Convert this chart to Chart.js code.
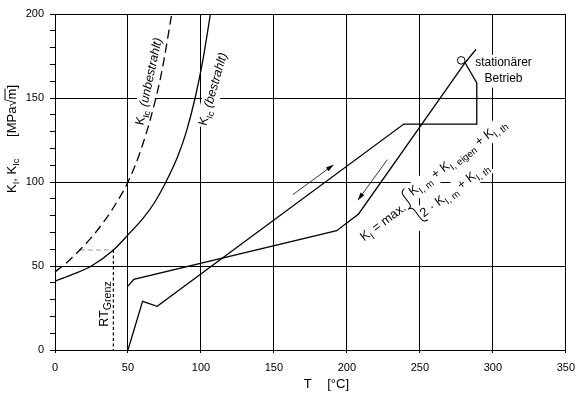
<!DOCTYPE html>
<html>
<head>
<meta charset="utf-8">
<script src="https://cdn.jsdelivr.net/npm/chart.js@4"></script>
<style>
  html, body { margin: 0; padding: 0; background: #fff; }
  canvas { display: block; }
</style>
</head>
<body>
<canvas id="chart" width="583" height="394"></canvas>
<script>
// K_Ic curves, T in °C, K in MPa√m
const kicUnbestrahltT = [0, 8, 17, 25, 34, 42, 50, 58, 66, 73, 80];
const kicUnbestrahltK = [46.5, 52, 59.5, 67, 77, 87.5, 100, 117, 139.5, 165, 200];
const kicBestrahltT = [0, 12, 25, 40, 50, 60, 68, 76, 84, 90, 96, 101, 106.5];
const kicBestrahltK = [41, 45, 50, 59.5, 68.5, 78, 87.5, 100, 115, 130, 150, 171, 200];

// K_I load paths
const pfadAufT = [50, 54, 193, 208, 281, 288.5];
const pfadAufK = [38, 42, 71, 81, 171, 179];
const pfadAbT = [50, 60, 70, 239, 289, 289, 281];
const pfadAbK = [0, 29, 26, 134.5, 134.5, 159, 171];

// RT_Grenz construction lines
const grenzHorizT = [17, 40];
const grenzHorizK = [59.5, 59.5];
const grenzVertT = [40, 40];
const grenzVertK = [59.5, 0];

// direction arrows
const pfeilAufT = [163, 190.5];
const pfeilAufK = [92.5, 110];
const pfeilAbT = [227.7, 207.8];
const pfeilAbK = [113.3, 89.5];

// stationary operation
const stationaerT = [278.3];
const stationaerK = [172.4];

const xTicks = [0, 50, 100, 150, 200, 250, 300, 350];
const yTicks = [0, 50, 100, 150, 200];

const FONT = "'Liberation Sans', Arial, sans-serif";
const TICKFONT = "'Liberation Sans Narrow', 'Liberation Sans', Arial, sans-serif";

const pts = (xs, ys) => xs.map((x, i) => ({ x: x, y: ys[i] }));

function setFont(ctx, size, italic) {
  ctx.font = (italic ? 'italic ' : '') + size + 'px ' + FONT;
}
function richWidth(ctx, parts, size, sub) {
  let w = 0;
  for (const p of parts) {
    setFont(ctx, p.sub ? size * sub : size, p.it);
    w += ctx.measureText(p.t).width;
  }
  return w;
}
function drawRich(ctx, parts, x, y, size, sub) {
  for (const p of parts) {
    setFont(ctx, p.sub ? size * sub : size, p.it);
    ctx.fillText(p.t, x, y + (p.sub ? size * 0.3 : 0));
    x += ctx.measureText(p.t).width;
  }
  return x;
}

// annotations, anchored in data units
const labels = [
  { T: 60.5, K: 133.5, rot: -78, size: 12.5, sub: 0.72, lines: [
    { dx: 0, dy: 0, parts: [{ t: 'K' }, { t: 'Ic', sub: 1 }, { t: ' (unbestrahlt)', it: 1 }] }] },
  { T: 103.7, K: 133.2, rot: -74, size: 12.5, sub: 0.72, lines: [
    { dx: 0, dy: 0, parts: [{ t: 'K' }, { t: 'Ic', sub: 1 }, { t: ' (bestrahlt)', it: 1 }] }] },
  { T: 36, K: 13.9, rot: -90, size: 12.5, sub: 0.85, lines: [
    { dx: 0, dy: 0, parts: [{ t: 'RT' }, { t: 'Grenz', sub: 1 }] }] },
  { T: 307.3, K: 168.9, rot: 0, size: 12, sub: 0.72, center: true, lines: [
    { dx: 0, dy: 0, parts: [{ t: 'stationärer' }] },
    { dx: 0, dy: 16, parts: [{ t: 'Betrieb' }] }] },
  { T: 211.8, K: 64.6, rot: -37, size: 12.8, sub: 0.75, brace: true, lines: [
    { dx: 0, dy: 0, parts: [{ t: 'K' }, { t: 'I', sub: 1 }, { t: ' = max.' }] },
    { dx: 66, dy: -7, parts: [{ t: 'K' }, { t: 'I, m', sub: 1 }, { t: ' + K' }, { t: 'I, eigen', sub: 1 }, { t: ' + K' }, { t: 'I, th', sub: 1 }] },
    { dx: 62, dy: 17, parts: [{ t: '2 · K' }, { t: 'I, m', sub: 1 }, { t: ' + K' }, { t: 'I, th', sub: 1 }] }] }
];

function eachLabel(chart, fn) {
  const ctx = chart.ctx;
  const xs = chart.scales.x, ys = chart.scales.y;
  for (const lab of labels) {
    ctx.save();
    ctx.translate(xs.getPixelForValue(lab.T), ys.getPixelForValue(lab.K));
    ctx.rotate(lab.rot * Math.PI / 180);
    fn(ctx, lab);
    ctx.restore();
  }
}

const annotationPlugin = {
  id: 'annotations',
  beforeDatasetsDraw(chart) {
    // white boxes behind the texts interrupt the grid
    eachLabel(chart, (ctx, lab) => {
      ctx.fillStyle = '#fff';
      for (const ln of lab.lines) {
        const w = richWidth(ctx, ln.parts, lab.size, lab.sub);
        const x0 = lab.center ? ln.dx - w / 2 : ln.dx;
        ctx.fillRect(x0 - 2, ln.dy - lab.size * 0.95, w + 4, lab.size * 1.4);
      }
      if (lab.brace) ctx.fillRect(50, -21, 16, 46);
    });
  },
  afterDatasetsDraw(chart) {
    const ctx = chart.ctx;
    const area = chart.chartArea;
    const xs = chart.scales.x, ys = chart.scales.y;
    ctx.fillStyle = '#000';
    ctx.textBaseline = 'alphabetic';
    ctx.textAlign = 'left';
    eachLabel(chart, (c, lab) => {
      for (const ln of lab.lines) {
        const w = richWidth(c, ln.parts, lab.size, lab.sub);
        const x0 = lab.center ? ln.dx - w / 2 : ln.dx;
        drawRich(c, ln.parts, x0, ln.dy, lab.size, lab.sub);
      }
      if (lab.brace) {
        c.strokeStyle = '#000';
        c.lineWidth = 1;
        c.beginPath();
        c.moveTo(64, -18);
        c.quadraticCurveTo(59, -18, 59, -13);
        c.lineTo(59, -3);
        c.quadraticCurveTo(59, 1, 54.5, 1);
        c.quadraticCurveTo(59, 1, 59, 5);
        c.lineTo(59, 16);
        c.quadraticCurveTo(59, 21, 64, 21);
        c.stroke();
      }
    });

    // arrow heads at the end of the direction arrows
    chart.data.datasets.forEach((ds, i) => {
      if (!ds.arrow) return;
      const d = chart.getDatasetMeta(i).data;
      const a = d[d.length - 2], b = d[d.length - 1];
      const ang = Math.atan2(b.y - a.y, b.x - a.x);
      ctx.save();
      ctx.translate(b.x, b.y);
      ctx.rotate(ang);
      ctx.beginPath();
      ctx.moveTo(1, 0);
      ctx.lineTo(-7, -2.3);
      ctx.lineTo(-7, 2.3);
      ctx.closePath();
      ctx.fill();
      ctx.restore();
    });

    // axis titles
    ctx.save();
    ctx.translate(area.left - 39.5, ys.getPixelForValue(93.5));
    ctx.rotate(-Math.PI / 2);
    drawRich(ctx, [{ t: 'K' }, { t: 'I', sub: 1 }, { t: ', K' }, { t: 'Ic', sub: 1 }], 0, 0, 13, 0.72);
    let x = drawRich(ctx, [{ t: '[MPa' }], 56, 0, 13, 0.72);
    x = drawRich(ctx, [{ t: '√' }], x, 0, 13, 0.72);
    const mStart = x;
    x = drawRich(ctx, [{ t: 'm' }], x, 0, 13, 0.72);
    ctx.strokeStyle = '#000';
    ctx.lineWidth = 1;
    ctx.beginPath();
    ctx.moveTo(mStart - 1, -10.5);
    ctx.lineTo(x, -10.5);
    ctx.stroke();
    drawRich(ctx, [{ t: ']' }], x, 0, 13, 0.72);
    ctx.restore();

    const by = area.bottom + 38;
    drawRich(ctx, [{ t: 'T' }], xs.getPixelForValue(170.5), by, 13, 0.72);
    drawRich(ctx, [{ t: '[°C]' }], xs.getPixelForValue(186.5), by, 13, 0.72);
  }
};

const lineBase = { borderColor: '#000', borderWidth: 1.3, pointRadius: 0, fill: false, tension: 0 };

new Chart(document.getElementById('chart'), {
  type: 'line',
  data: {
    datasets: [
      { label: 'stationärer Betrieb', data: pts(stationaerT, stationaerK), showLine: false,
        pointRadius: 3.8, pointBackgroundColor: '#fff', pointBorderColor: '#000', pointBorderWidth: 1 },
      Object.assign({}, lineBase, { label: 'KIc unbestrahlt', data: pts(kicUnbestrahltT, kicUnbestrahltK),
        borderDash: [9, 5], cubicInterpolationMode: 'monotone' }),
      Object.assign({}, lineBase, { label: 'KIc bestrahlt', data: pts(kicBestrahltT, kicBestrahltK),
        cubicInterpolationMode: 'monotone' }),
      Object.assign({}, lineBase, { label: 'KI Anfahren', data: pts(pfadAufT, pfadAufK) }),
      Object.assign({}, lineBase, { label: 'KI Abfahren', data: pts(pfadAbT, pfadAbK) }),
      Object.assign({}, lineBase, { label: 'RT Grenz horizontal', data: pts(grenzHorizT, grenzHorizK),
        borderColor: '#b4bcbc', borderWidth: 1.6, borderDash: [5, 3] }),
      Object.assign({}, lineBase, { label: 'RT Grenz', data: pts(grenzVertT, grenzVertK),
        borderWidth: 1.2, borderDash: [3, 2.5] }),
      Object.assign({}, lineBase, { label: 'Pfeil auf', data: pts(pfeilAufT, pfeilAufK), borderWidth: 0.8, arrow: true }),
      Object.assign({}, lineBase, { label: 'Pfeil ab', data: pts(pfeilAbT, pfeilAbK), borderWidth: 0.8, arrow: true })
    ]
  },
  options: {
    responsive: false,
    animation: false,
    devicePixelRatio: 1,
    layout: { padding: { left: 0, top: 14, right: 13, bottom: 0 } },
    plugins: { legend: { display: false }, tooltip: { enabled: false } },
    scales: {
      x: {
        type: 'linear', min: 0, max: 350,
        afterBuildTicks: (s) => { s.ticks = xTicks.map(v => ({ value: v })); },
        afterFit: (s) => { s.height = 44; },
        grid: { color: '#000', lineWidth: 1, tickLength: 3, tickColor: '#000' },
        border: { color: '#000', width: 1 },
        ticks: { color: '#000', padding: 8, font: { family: TICKFONT, size: 11 }, autoSkip: false, maxRotation: 0 }
      },
      y: {
        type: 'linear', min: 0, max: 200,
        ticks: {
          stepSize: 10, autoSkip: false, color: '#000', padding: 6,
          font: { family: TICKFONT, size: 11 },
          callback: (v) => yTicks.includes(v) ? String(v) : ''
        },
        afterFit: (s) => { s.width = 55; },
        grid: {
          lineWidth: 1, tickLength: 5, tickColor: '#000',
          color: (c) => yTicks.includes(c.tick.value) ? '#000' : 'rgba(0,0,0,0)'
        },
        border: { color: '#000', width: 1 }
      }
    }
  },
  plugins: [annotationPlugin]
});
</script>
</body>
</html>
